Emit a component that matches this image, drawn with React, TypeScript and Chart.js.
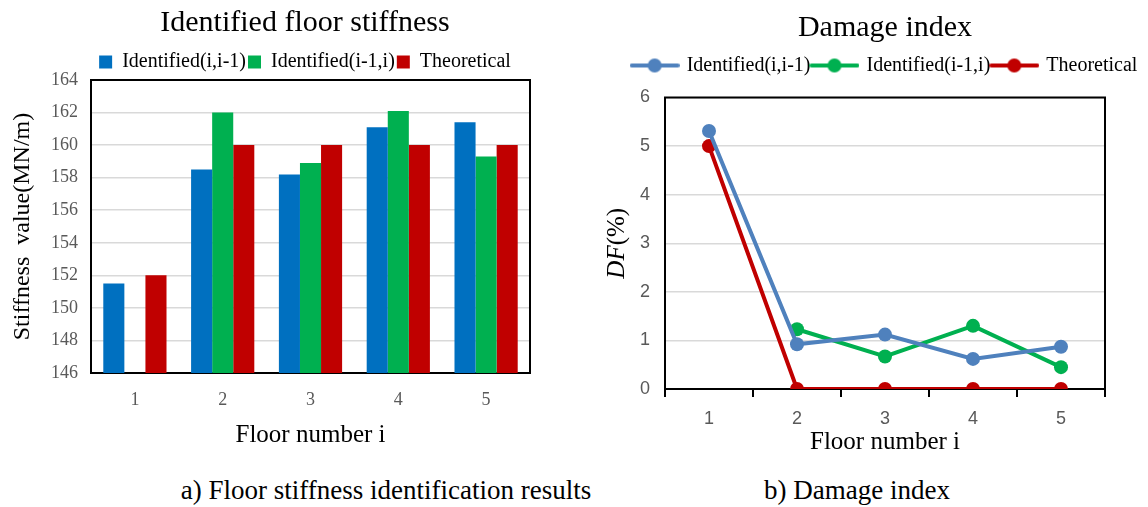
import React, { useEffect, useRef } from "react";
import { Chart, registerables } from "chart.js";

Chart.register(...registerables);

// ---------- data ----------
const floors = ["1", "2", "3", "4", "5"];
const seriesNames = ["Identified(i,i-1)", "Identified(i-1,i)", "Theoretical"];

const stiffIdentFwd = [151.5, 158.5, 158.2, 161.1, 161.4];
const stiffIdentBwd = [null, 162.0, 158.9, 162.1, 159.3];
const stiffTheory = [152, 160, 160, 160, 160];

const dfIdentFwd = [5.31, 0.92, 1.12, 0.62, 0.87];
const dfIdentBwd = [null, 1.23, 0.67, 1.3, 0.45];
const dfTheory = [5, 0, 0, 0, 0];

const SERIF = "'Liberation Serif', 'Times New Roman', serif";
const SANS = "'Liberation Sans', 'Noto Sans', sans-serif";
const GRAY = "#595959";
const GRID = "#D9D9D9";

const BAR_COLORS = ["#0070C0", "#00B050", "#C00000"];
const LINE_COLORS = ["#4F81BD", "#00B050", "#C00000"];

// ---------- plugins ----------
const framePlugin = {
  id: "frame",
  beforeDatasetsDraw(chart: any) {
    const { ctx, chartArea } = chart;
    const { left, top, right, bottom } = chartArea;
    ctx.save();
    ctx.strokeStyle = "#000";
    ctx.lineWidth = 2;
    ctx.strokeRect(left, top, right - left, bottom - top);
    ctx.restore();
  },
};

const legendShift = (delta: number) => ({
  id: "legendShift",
  afterInit(chart: any) {
    const lg = chart.legend;
    if (!lg) return;
    const orig = lg.fit.bind(lg);
    lg.fit = () => {
      orig();
      lg.height = lg.height + delta;
    };
  },
});

const dfTitlePlugin = {
  id: "dfTitle",
  afterDraw(chart: any) {
    const { ctx, chartArea } = chart;
    const x = chartArea.left - 48;
    const y = (chartArea.top + chartArea.bottom) / 2;
    const f1 = `italic 25px ${SERIF}`;
    const f2 = `25px ${SERIF}`;
    ctx.save();
    ctx.translate(x, y);
    ctx.rotate(-Math.PI / 2);
    ctx.textBaseline = "middle";
    ctx.textAlign = "left";
    ctx.fillStyle = "#000";
    ctx.font = f1;
    const w1 = ctx.measureText("DF").width;
    ctx.font = f2;
    const w2 = ctx.measureText("(%)").width;
    const start = -(w1 + w2) / 2;
    ctx.font = f1;
    ctx.fillText("DF", start, 0);
    ctx.font = f2;
    ctx.fillText("(%)", start + w1, 0);
    ctx.restore();
  },
};

function makeLegendIcon(color: string) {
  const c = document.createElement("canvas");
  c.width = 50;
  c.height = 16;
  const g = c.getContext("2d")!;
  g.strokeStyle = color;
  g.lineWidth = 4;
  g.lineCap = "round";
  g.beginPath();
  g.moveTo(2, 8);
  g.lineTo(48, 8);
  g.stroke();
  g.fillStyle = color;
  g.beginPath();
  g.arc(25, 8, 7, 0, Math.PI * 2);
  g.fill();
  return c;
}

// an empty axis on the right, used only to reserve space
const spacerAxis = (w: number) => ({
  position: "right",
  min: 0,
  max: 1,
  grid: { display: false, drawTicks: false },
  border: { display: false },
  ticks: { display: false },
  afterFit: (s: any) => {
    s.width = w;
  },
});

function StiffnessChart() {
  const ref = useRef<HTMLCanvasElement>(null);
  useEffect(() => {
    const chart = new Chart(ref.current!, {
      type: "bar",
      data: {
        labels: floors,
        datasets: [
          { label: seriesNames[0], data: stiffIdentFwd, backgroundColor: BAR_COLORS[0] },
          { label: seriesNames[1], data: stiffIdentBwd, backgroundColor: BAR_COLORS[1] },
          { label: seriesNames[2], data: stiffTheory, backgroundColor: BAR_COLORS[2] },
        ],
      },
      options: {
        responsive: false,
        animation: false,
        layout: { padding: 0 },
        datasets: { bar: { categoryPercentage: 0.72, barPercentage: 1 } },
        plugins: {
          tooltip: { enabled: false },
          title: {
            display: true,
            text: "Identified floor stiffness",
            color: "#000",
            font: { family: SERIF, size: 30, weight: "normal" },
            padding: { top: 5, bottom: 9 },
          },
          legend: {
            labels: {
              color: "#000",
              font: { family: SERIF, size: 20 },
              boxWidth: 13,
              boxHeight: 13,
              padding: 2,
            },
          },
        },
        scales: {
          x: {
            grid: { display: false, drawTicks: false },
            border: { display: false },
            ticks: { color: GRAY, font: { family: SERIF, size: 18 }, padding: 16 },
            title: {
              display: true,
              text: "Floor number i",
              color: "#000",
              font: { family: SERIF, size: 25 },
              padding: { top: 0, bottom: 20 },
            },
            afterFit: (s: any) => {
              s.height = 97;
            },
          },
          y: {
            min: 146,
            max: 164,
            ticks: { stepSize: 2, color: GRAY, font: { family: SERIF, size: 18 }, padding: 13 },
            grid: { color: GRID, lineWidth: 1.5, drawTicks: false },
            border: { display: false },
            title: {
              display: true,
              text: "Stiffness  value(MN/m)",
              color: "#000",
              font: { family: SERIF, size: 24 },
              padding: { top: 8, bottom: 0 },
            },
            afterFit: (s: any) => {
              s.width = 91;
            },
          },
          yPad: spacerAxis(80),
        },
      } as any,
      plugins: [framePlugin, legendShift(-2)],
    });
    return () => chart.destroy();
  }, []);
  return <canvas ref={ref} width={610} height={470} style={{ width: 610, height: 470, display: "block" }} />;
}

function DamageChart() {
  const ref = useRef<HTMLCanvasElement>(null);
  useEffect(() => {
    const icons = LINE_COLORS.map(makeLegendIcon);
    const mk = (i: number, data: (number | null)[]) => ({
      label: seriesNames[i],
      data,
      borderColor: LINE_COLORS[i],
      backgroundColor: LINE_COLORS[i],
      borderWidth: 4,
      pointRadius: 7,
      pointHoverRadius: 7,
      pointBorderWidth: 0,
      pointBackgroundColor: LINE_COLORS[i],
      tension: 0,
    });
    const chart = new Chart(ref.current!, {
      type: "line",
      data: {
        labels: floors,
        datasets: [mk(0, dfIdentFwd), mk(1, dfIdentBwd), mk(2, dfTheory)],
      },
      options: {
        responsive: false,
        animation: false,
        layout: { padding: 0 },
        plugins: {
          tooltip: { enabled: false },
          title: {
            display: true,
            text: "Damage index",
            color: "#000",
            font: { family: SERIF, size: 30, weight: "normal" },
            padding: { top: 10, bottom: 7.5 },
          },
          legend: {
            labels: {
              color: "#000",
              font: { family: SERIF, size: 20 },
              usePointStyle: true,
              pointStyleWidth: 44,
              padding: 2,
              generateLabels: (c: any) => {
                const items = (Chart as any).defaults.plugins.legend.labels.generateLabels(c);
                return items.map((it: any, i: number) => ({ ...it, pointStyle: icons[i] }));
              },
            },
          },
        },
        scales: {
          x: {
            offset: true,
            grid: {
              display: true,
              offset: true,
              drawOnChartArea: false,
              drawTicks: true,
              tickLength: 8,
              color: "#000",
              lineWidth: 2,
            },
            border: { display: false },
            ticks: { color: GRAY, font: { family: SANS, size: 18 }, padding: 11 },
            title: {
              display: true,
              text: "Floor number i",
              color: "#000",
              font: { family: SERIF, size: 25 },
              padding: { top: 0, bottom: 13 },
            },
            afterFit: (s: any) => {
              s.height = 81;
            },
          },
          y: {
            min: 0,
            max: 6,
            ticks: { stepSize: 1, color: GRAY, font: { family: SANS, size: 18 }, padding: 15 },
            grid: { color: GRID, lineWidth: 1.5, drawTicks: false },
            border: { display: false },
            afterFit: (s: any) => {
              s.width = 75;
            },
          },
          yPad: spacerAxis(75),
        },
      } as any,
      plugins: [framePlugin, dfTitlePlugin, legendShift(12)],
    });
    return () => chart.destroy();
  }, []);
  return <canvas ref={ref} width={590} height={470} style={{ width: 590, height: 470, display: "block" }} />;
}

const captionStyle: React.CSSProperties = {
  position: "absolute",
  top: 475,
  transform: "translateX(-50%)",
  fontFamily: SERIF,
  fontSize: 27,
  lineHeight: "30px",
  whiteSpace: "nowrap",
  color: "#000",
};

export default function App() {
  return (
    <div
      style={{
        position: "fixed",
        left: 0,
        top: 0,
        width: 1148,
        height: 507,
        overflow: "hidden",
        background: "#fff",
      }}
    >
      <div style={{ position: "absolute", left: 0, top: 0 }}>
        <StiffnessChart />
      </div>
      <div style={{ position: "absolute", left: 590, top: 0 }}>
        <DamageChart />
      </div>
      <div style={{ ...captionStyle, left: 386 }}>a) Floor stiffness identification results</div>
      <div style={{ ...captionStyle, left: 857 }}>b) Damage index</div>
    </div>
  );
}
